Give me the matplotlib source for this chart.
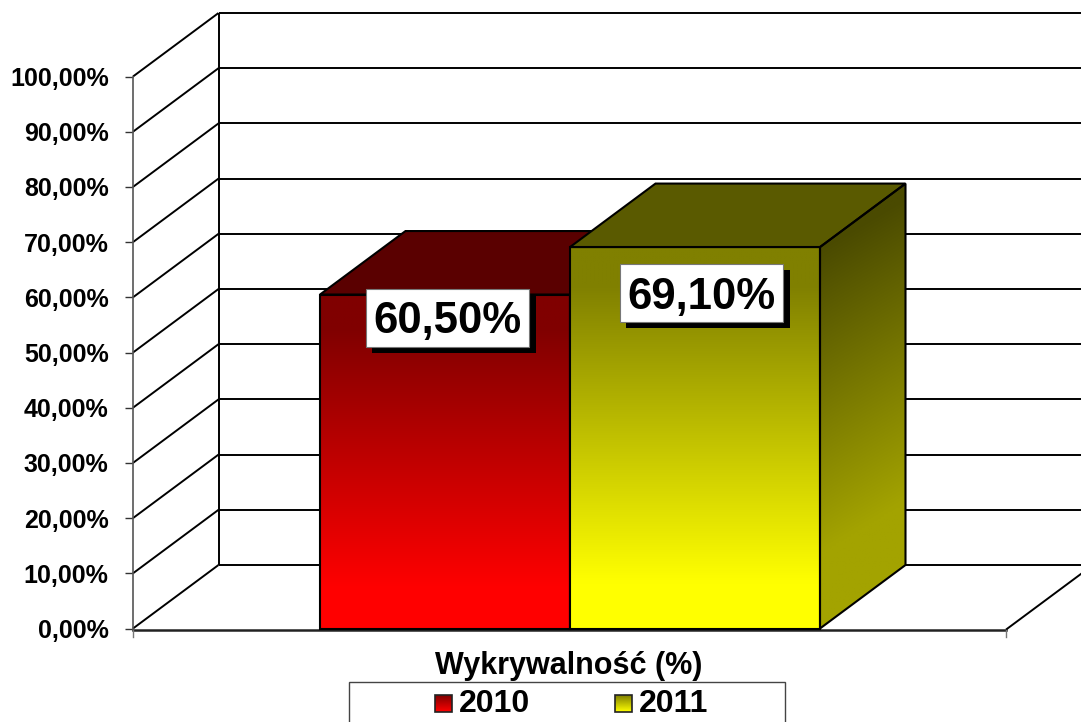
import numpy as np
import matplotlib
matplotlib.use("Agg")
from matplotlib import pyplot as plt
from matplotlib.patches import Polygon, Rectangle

years = ["2010", "2011"]
values = [60.5, 69.1]
y_ticks = [0, 10, 20, 30, 40, 50, 60, 70, 80, 90, 100]
axis_title = "Wykrywalność (%)"

front_colors = [("#800000", "#ff0000"), ("#808000", "#ffff00")]
top_colors = ["#5a0000", "#5a5a00"]
side_colors = [("#4a0000", "#a30000"), ("#4a4a00", "#a3a300")]

plt.rcParams["font.family"] = ["Liberation Sans", "DejaVu Sans"]

# the axes fill the figure, x runs in pixels, y in percent
Y0 = 628.5
PX_PER_PCT = 5.52
DX = 85.5
DY = 63.5 / PX_PER_PCT


def py(pixel):
    return (Y0 - pixel) / PX_PER_PCT


def to_rgb(col):
    return np.array(matplotlib.colors.to_rgb(col))


def gradient(ax, poly, t, x0, x1, y0, y1, c0, c1, z):
    # t is a 2d array 0..1 with row 0 at y1
    rgb = to_rgb(c0)[None, None, :] + t[..., None] * (to_rgb(c1) - to_rgb(c0))[None, None, :]
    im = ax.imshow(rgb, extent=(x0, x1, y0, y1), origin="upper", aspect="auto",
                   interpolation="bilinear", zorder=z)
    im.set_clip_path(poly)


def draw_bar(ax, x0, x1, val, i, z):
    front = Polygon([(x0, 0), (x1, 0), (x1, val), (x0, val)], closed=True, fc="none",
                    ec="black", lw=1.5, zorder=z + 0.2)
    top = Polygon([(x0, val), (x1, val), (x1 + DX, val + DY), (x0 + DX, val + DY)], closed=True,
                  fc=top_colors[i], ec="black", lw=1.5, zorder=z + 0.1)
    side = Polygon([(x1, 0), (x1 + DX, DY), (x1 + DX, val + DY), (x1, val)], closed=True, fc="none",
                   ec="black", lw=1.5, zorder=z + 0.2)
    ax.add_patch(top)
    ax.add_patch(front)
    ax.add_patch(side)

    # front face stays dark for the first tenth, then runs to full colour
    yy = np.linspace(val, 0, 200)[:, None]
    t = np.clip((val * 0.9 - yy) / (val * 0.78), 0, 1)
    gradient(ax, front, t, x0, x1, 0, val, front_colors[i][0], front_colors[i][1], z)

    xs = np.linspace(x1, x1 + DX, 60)
    ys = np.linspace(val + DY, 0, 200)
    X, Y = np.meshgrid(xs, ys)
    t = np.clip((val + (X - x1) / DX * DY * 0.8 - Y) / (val * 0.8), 0, 1)
    gradient(ax, side, t, x1, x1 + DX, 0, val + DY, side_colors[i][0], side_colors[i][1], z)


def data_label(ax, cx, cy, text):
    w, h = 163.5, 58
    top = py(cy - h / 2)
    bottom = py(cy + h / 2)
    ax.add_patch(Rectangle((cx - w / 2 + 6.5, bottom - 6 / PX_PER_PCT), w, top - bottom,
                           fc="black", ec="none", zorder=10))
    ax.add_patch(Rectangle((cx - w / 2, bottom), w, top - bottom,
                           fc="white", ec="#777777", lw=0.8, zorder=11))
    ax.text(cx, py(cy + 4), text, ha="center", va="center", fontsize=31.5,
            fontweight="bold", zorder=12)


fig = plt.figure(figsize=(10.81, 7.22), dpi=100)
ax = fig.add_axes([0, 0, 1, 1])

wall_x = 133 + DX
line = dict(color="black", lw=1.4, zorder=1, solid_capstyle="butt")

# back wall and side wall
for v in y_ticks:
    ax.plot([wall_x, 1081], [v + DY, v + DY], **line)
    ax.plot([133, wall_x], [v, v + DY], **line)
ax.plot([wall_x, wall_x], [DY, 100 + DY], **line)

# floor
ax.plot([133, 1006], [-0.2, -0.2], color="#222222", lw=1.8, zorder=1)
ax.plot([1006, 1006 + DX], [-0.2, DY - 0.2], **line)
ax.plot([1006, 1006], [-0.2, py(637)], color="#777777", lw=1, zorder=1)
ax.plot([133, 133], [0, py(637)], color="#777777", lw=1, zorder=1)

draw_bar(ax, 320, 570, values[0], 0, 3)
draw_bar(ax, 570, 820, values[1], 1, 5)

labels = [f"{v:.2f}".replace(".", ",") + "%" for v in values]
data_label(ax, 447.5, 318, labels[0])
data_label(ax, 701.5, 293, labels[1])

ax.text(568.5, py(666), axis_title, ha="center", va="center", fontsize=22, fontweight="bold")

# legend, its box runs off the bottom of the picture
ax.add_patch(Rectangle((349, py(730)), 436, py(681.5) - py(730), fc="white", ec="#444444", lw=1, zorder=2))
for year, sx, tx, fc in zip(years, [435, 615], [459, 639], front_colors):
    box = Rectangle((sx, py(712)), 17, py(695) - py(712), fc="none", ec="#222222", lw=1.2, zorder=4)
    ax.add_patch(box)
    t = np.linspace(0, 1, 40)[:, None]
    gradient(ax, box, t, sx, sx + 17, py(712), py(695), fc[0], fc[1], 3)
    ax.text(tx, py(703.5), year, ha="left", va="center", fontsize=23, fontweight="bold", zorder=4)

ax.set_xlim(0, 1081)
ax.set_ylim(py(722), py(0))
ax.patch.set_alpha(0)

for name in ["top", "right", "bottom"]:
    ax.spines[name].set_visible(False)
ax.spines["left"].set_position(("data", 133))
ax.spines["left"].set_bounds(0, 100)
ax.spines["left"].set_color("#555555")
ax.spines["left"].set_linewidth(1.2)
ax.set_xticks([])
ax.set_yticks(y_ticks)
ax.set_yticklabels([f"{v:.2f}".replace(".", ",") + "%" for v in y_ticks], fontsize=18, fontweight="bold")
ax.tick_params(axis="y", length=6, width=1, color="#333333", pad=11.5)

fig.savefig("out.png", dpi=100)
